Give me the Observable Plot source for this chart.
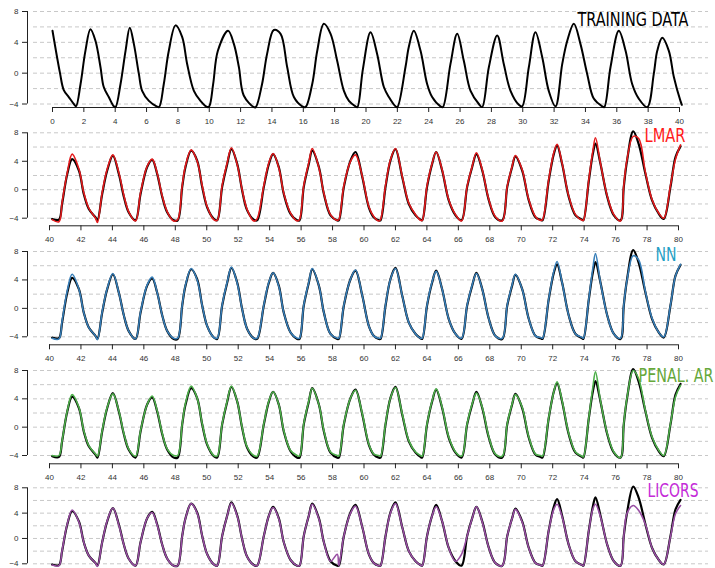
<!DOCTYPE html>
<html><head><meta charset="utf-8">
<script src="https://cdn.jsdelivr.net/npm/d3@7"></script>
<script src="https://cdn.jsdelivr.net/npm/@observablehq/plot@0.6"></script>
<style>
body{margin:0;background:#fff;}
#wrap{position:relative;width:715px;height:568px;overflow:hidden;background:#fff;}
#wrap > div{position:absolute;left:0;width:715px;}
</style></head><body><div id="wrap"></div>
<script>
// ---- training data (x 0..40)
const trainT = [0,0.47,0.72,1.04,1.36,1.5,1.79,2.1,2.42,2.74,3.06,3.27,3.59,3.91,4.02,4.34,4.66,4.93,5.19,5.51,5.72,6.15,6.64,6.8,7.1,7.42,7.85,8.27,8.59,9.02,9.44,9.87,10.0,10.25,10.55,11.2,11.57,11.89,12.2,12.84,12.97,13.37,13.69,14.12,14.55,14.97,15.4,15.93,16.14,16.57,16.89,17.31,17.74,18.16,18.59,18.91,19.33,19.45,19.8,20.29,20.71,21.14,21.46,21.88,22.0,22.52,22.73,23.05,23.48,23.9,24.22,24.75,24.9,25.39,25.82,26.24,26.67,27.2,27.41,27.84,28.37,28.79,29.22,29.75,29.96,30.39,30.81,31.24,31.66,32.09,32.52,32.84,33.26,33.68,34.11,34.53,35.07,35.2,35.6,36.13,36.56,36.98,37.4,37.94,38.36,38.58,38.9,39.32,39.64,40.06,40.15];
const trainY = [5.5,0.1,-2.2,-3.1,-4.0,-4.3,-1.4,2.9,5.7,4.2,0.8,-1.8,-3.1,-4.3,-4.4,-1.4,2.9,5.9,3.8,-0.1,-2.3,-3.6,-4.3,-4.4,-1.4,2.9,6.2,4.7,1.2,-2.3,-3.6,-4.4,-4.3,-1.4,2.9,5.5,3.8,0.8,-2.9,-4.4,-4.4,-1.4,2.5,5.6,5.1,0.8,-3.1,-4.3,-4.4,-1.4,2.9,6.4,5.1,1.6,-2.3,-3.6,-4.3,-4.4,0.5,5.3,2.5,-1.8,-3.1,-4.3,-4.4,0.8,3.4,5.5,2.9,-1.4,-3.1,-4.3,-4.4,1.2,5.1,1.6,-2.3,-4.0,-4.4,0.8,4.9,1.2,-2.3,-4.1,-4.3,0.8,5.3,2.1,-2.3,-4.3,1.2,4.2,6.4,3.8,-0.1,-3.3,-4.3,-4.4,0.8,5.5,2.9,-1.4,-3.3,-4.4,-0.1,2.9,4.6,2.9,-0.5,-3.6,-4.1];

// ---- test period (x 40..80): observed series and four predictions
const testT = [40.17,40.6,40.8,41.13,41.44,41.87,42.18,42.5,42.93,43.05,43.35,43.67,44.03,44.41,44.73,45.04,45.47,45.79,46.21,46.53,46.85,47.17,47.49,47.9,48.15,48.44,48.65,49.01,49.39,49.71,50.03,50.45,50.66,50.98,51.3,51.57,51.94,52.25,52.57,52.99,53.2,53.63,53.95,54.22,54.58,54.9,55.33,55.75,55.9,56.17,56.49,56.71,57.13,57.45,57.87,58.3,58.4,58.72,59.14,59.46,59.89,60.31,60.63,60.94,61.05,61.37,61.68,62.0,62.43,62.85,63.28,63.59,63.7,64.01,64.33,64.59,64.97,65.39,65.82,66.2,66.56,66.88,67.15,67.52,67.94,68.36,68.79,69.11,69.42,69.63,70.06,70.48,70.91,71.22,71.35,71.75,72.07,72.28,72.6,73.02,73.45,73.87,73.95,74.3,74.55,74.72,75.04,75.47,75.89,76.31,76.52,76.73,77.12,77.47,77.9,78.32,78.75,79.06,79.49,79.81,80.13];
const actual = [-4.1,-4.2,-2.0,2.2,4.3,2.7,-0.6,-2.7,-3.9,-4.3,-0.6,2.7,4.8,2.2,-1.0,-3.2,-4.3,-0.6,3.2,4.2,2.2,-1.0,-3.2,-4.3,-4.3,0.4,3.2,5.5,4.1,0.4,-2.5,-4.1,-4.3,0.4,3.6,5.7,3.6,-0.1,-2.9,-4.2,-4.3,0.4,3.6,5.0,3.2,-0.6,-3.4,-4.3,-4.3,0.4,3.6,5.5,3.2,-0.6,-3.6,-4.3,-4.3,0.4,4.1,5.3,1.8,-2.5,-3.9,-4.3,-4.3,0.4,4.1,5.7,1.8,-2.0,-3.6,-4.2,-4.3,0.4,3.6,5.3,2.7,-1.5,-3.6,-4.3,0.4,3.2,5.0,2.7,-1.5,-3.9,-4.3,0.4,3.2,4.7,2.7,-1.5,-3.9,-4.2,-4.3,1.3,5.0,6.2,3.6,-1.0,-3.6,-4.2,-4.3,1.3,5.0,6.5,3.6,-1.0,-3.6,-4.3,0.4,4.1,8.2,6.4,2.2,-1.5,-3.4,-4.1,0.4,4.6,6.1];
const lmar = [-4.2,-4.5,-1.8,2.4,5.0,2.9,-0.4,-2.6,-4.0,-4.6,-0.4,2.9,4.9,2.4,-0.8,-3.1,-4.4,-0.4,3.3,4.3,2.3,-0.9,-3.1,-4.4,-4.2,0.6,3.4,5.6,4.0,0.6,-2.4,-4.2,-4.3,0.6,3.8,5.9,3.5,0.0,-2.8,-4.4,-4.1,0.6,3.8,5.1,3.1,-0.5,-3.3,-4.4,-4.2,0.6,3.8,5.8,3.1,-0.5,-3.5,-4.3,-4.2,0.6,4.0,4.9,1.9,-2.4,-3.8,-4.4,-4.2,0.6,4.2,5.8,1.9,-1.9,-3.5,-4.3,-4.3,0.6,3.7,5.3,2.8,-1.4,-3.5,-4.4,0.5,3.3,5.2,2.8,-1.4,-3.8,-4.4,0.5,3.3,4.8,2.8,-1.4,-3.8,-4.3,-4.2,1.5,5.2,6.4,3.7,-0.9,-3.5,-4.3,-4.3,1.5,5.4,7.3,3.7,-0.9,-3.5,-4.4,0.6,4.3,7.5,7.2,2.4,-1.4,-3.3,-4.0,0.6,4.3,6.3];
const nn = [-4.2,-4.3,-1.8,2.5,4.8,2.7,-0.6,-2.7,-3.9,-4.4,-0.5,2.8,4.9,2.2,-1.0,-3.2,-4.3,-0.5,3.3,4.4,2.2,-1.0,-3.2,-4.2,-4.2,0.5,3.3,5.6,4.0,0.4,-2.5,-4.1,-4.2,0.5,3.7,5.8,3.5,-0.1,-2.9,-4.2,-4.2,0.5,3.7,5.0,3.1,-0.6,-3.4,-4.2,-4.2,0.5,3.7,5.6,3.2,-0.6,-3.6,-4.2,-4.2,0.5,4.1,5.4,1.8,-2.5,-3.9,-4.2,-4.2,0.5,4.1,5.6,1.8,-2.0,-3.6,-4.2,-4.2,0.5,3.7,5.2,2.7,-1.5,-3.6,-4.2,0.5,3.3,4.9,2.7,-1.5,-3.9,-4.2,0.5,3.3,4.8,2.7,-1.5,-3.9,-4.1,-4.2,1.4,5.2,6.6,3.6,-1.0,-3.6,-4.1,-4.2,1.4,5.6,7.7,3.6,-1.0,-3.6,-4.2,0.5,4.0,7.4,6.8,2.3,-1.4,-3.4,-4.0,0.5,4.6,6.2];
const penalAr = [-4.0,-4.0,-1.9,2.3,4.6,2.8,-0.5,-2.6,-3.8,-4.1,-0.5,2.8,4.7,2.3,-0.9,-3.1,-4.1,-0.5,3.2,4.4,2.3,-0.9,-3.1,-4.0,-4.0,0.5,3.4,5.8,4.1,0.5,-2.4,-4.0,-4.1,0.5,3.7,5.8,3.6,0.0,-2.8,-4.0,-4.1,0.5,3.7,5.0,3.2,-0.5,-3.3,-4.0,-4.1,0.5,3.7,5.5,3.2,-0.5,-3.5,-4.0,-4.1,0.5,4.1,5.2,1.9,-2.4,-3.8,-4.0,-4.1,0.5,4.1,5.6,1.9,-1.9,-3.5,-4.0,-4.1,0.5,3.7,5.4,2.8,-1.4,-3.5,-4.1,0.5,3.3,4.8,2.8,-1.4,-3.8,-4.1,0.5,3.3,4.6,2.8,-1.4,-3.8,-4.0,-4.1,1.4,5.0,6.4,3.7,-0.9,-3.5,-4.1,-4.2,1.4,5.6,7.8,3.7,-0.9,-3.5,-4.3,0.5,4.2,8.0,6.8,2.3,-1.4,-3.3,-4.0,0.5,4.3,5.9];
const licors = [-4.2,-4.3,-1.9,2.3,4.5,2.6,-0.6,-2.7,-3.9,-4.4,-0.6,2.8,4.8,2.1,-1.0,-3.2,-4.3,-0.6,3.2,4.1,2.1,-1.0,-3.2,-4.3,-4.3,0.4,3.2,5.5,4.0,0.4,-2.5,-4.1,-4.3,0.4,3.6,5.6,3.5,-0.1,-2.9,-4.2,-4.3,0.4,3.6,4.9,3.1,-0.6,-3.4,-4.3,-4.3,0.4,3.6,5.4,3.1,-0.6,-3.6,-2.5,-4.3,0.4,4.0,5.1,1.8,-2.5,-3.9,-4.3,-4.3,0.4,4.0,5.5,1.8,-2.0,-3.6,-4.2,-4.3,0.4,3.6,5.0,2.7,-1.5,-3.6,-2.5,0.4,3.2,5.0,2.6,-1.5,-3.9,-4.3,0.4,3.2,4.6,2.6,-1.5,-3.9,-4.2,-4.3,1.3,4.6,5.4,3.4,-1.0,-3.6,-4.2,-4.3,1.3,4.6,5.4,3.4,-1.0,-3.6,-4.3,0.4,4.0,5.2,4.4,2.2,-1.5,-3.4,-4.1,0.3,3.9,5.2];

const trainTicks = [0,2,4,6,8,10,12,14,16,18,20,22,24,26,28,30,32,34,36,38,40];
const testTicks = [40,42,44,46,48,50,52,54,56,58,60,62,64,66,68,70,72,74,76,78,80];
const yTicks = [-4,0,4,8];
const gridValues = [-4,-2,0,2,4,6,8];

const trainRows = trainT.map((t, i) => ({t, v: trainY[i]}));
const testRows = testT.map((t, i) => ({t, actual: actual[i], lmar: lmar[i], nn: nn[i], penalAr: penalAr[i], licors: licors[i]}));

const panels = [
  {label: "TRAINING DATA", labelColor: "#000000", lineColor: null, key: null, labelWidth: 111, showX: true,
   top: 0, height: 130, yPx: [103.5, 11], axis: 107, xDom: [0, 40], xPx: [52, 679], ticks: trainTicks, lx: 33.49, ly: 7.01},
  {label: "LMAR", labelColor: "#ff1a1a", lineColor: "#e41a1c", key: "lmar", labelWidth: 41, showX: true,
   top: 120, height: 130, yPx: [97.7, 12.3], axis: 105.3, xDom: [40, 80], xPx: [49, 678], ticks: testTicks, lx: 77.84, ly: 7.58},
  {label: "NN", labelColor: "#1f9fc6", lineColor: "#377eb8", key: "nn", labelWidth: 21, showX: true,
   top: 239, height: 130, yPx: [97.3, 12], axis: 105.3, xDom: [40, 80], xPx: [49, 678], ticks: testTicks, lx: 78.54, ly: 7.53},
  {label: "PENAL. AR", labelColor: "#66a83a", lineColor: "#4daf4a", key: "penalAr", labelWidth: 75, showX: true,
   top: 358, height: 130, yPx: [97, 12], axis: 105.3, xDom: [40, 80], xPx: [49, 678], ticks: testTicks, lx: 77.46, ly: 7.35},
  {label: "LICORS", labelColor: "#c42bd8", lineColor: "#984ea3", key: "licors", labelWidth: 51, showX: false,
   top: 476, height: 92, yPx: [87.3, 11.3], axis: 92, xDom: [40, 80], xPx: [49, 678], ticks: testTicks, lx: 78.03, ly: 7.53}
];

const wrap = document.getElementById("wrap");
const minus = d => (d < 0 ? "\u2212" + Math.abs(d) : String(d));

for (const p of panels) {
  const marks = [
    Plot.ruleY(gridValues, {stroke: "#c8c8c8", strokeWidth: 1, strokeDasharray: "4,3", insetLeft: 6}),
    Plot.ruleX([p.xDom[0]], {y1: -4, y2: 8, stroke: "#222", strokeWidth: 1, dx: 27 - p.xPx[0]}),
    Plot.axisY({ticks: yTicks, tickSize: 5, tickPadding: 4, tickFormat: minus, stroke: "#222", fill: "#333", fontSize: 8, label: null})
  ];
  if (p.showX) {
    marks.push(Plot.ruleY([-4], {x1: p.xDom[0], x2: p.xDom[1], stroke: "#222", strokeWidth: 1, dy: p.axis - p.yPx[0]}));
    marks.push(Plot.axisX({ticks: p.ticks, tickSize: 5, tickPadding: 6, tickFormat: d => String(d), stroke: "#222", fill: "#333", fontSize: 8, label: null}));
  }
  if (p.key === null) {
    marks.push(Plot.line(trainRows, {x: "t", y: "v", stroke: "#000", strokeWidth: 2, curve: "catmull-rom"}));
  } else {
    marks.push(Plot.line(testRows, {x: "t", y: "actual", stroke: "#000", strokeWidth: 2.2, curve: "catmull-rom"}));
    marks.push(Plot.line(testRows, {x: "t", y: p.key, stroke: p.lineColor, strokeWidth: 1.6, curve: "catmull-rom"}));
  }
  marks.push(Plot.text([p.label], {x: p.lx, y: p.ly, text: d => d, textAnchor: "start", fill: p.labelColor,
    fontSize: 20, fontFamily: "'DejaVu Sans Condensed', 'DejaVu Sans', sans-serif"}));

  const chart = Plot.plot({
    width: 715,
    height: p.height,
    marginLeft: 27,
    marginRight: 7,
    marginTop: 0,
    marginBottom: p.height - p.axis,
    x: {domain: p.xDom, range: p.xPx, label: null, axis: p.showX ? undefined : null},
    y: {domain: [-4, 8], range: p.yPx, label: null},
    style: {fontFamily: "'Liberation Sans', Arial, sans-serif", fontSize: "8px", color: "#333", background: "transparent", overflow: "visible"},
    marks
  });
  // fit the panel title to the width it has in the reference
  for (const t of chart.querySelectorAll("text")) {
    if (t.textContent === p.label) {
      t.setAttribute("textLength", p.labelWidth);
      t.setAttribute("lengthAdjust", "spacingAndGlyphs");
    }
  }
  const holder = document.createElement("div");
  holder.style.top = p.top + "px";
  holder.appendChild(chart);
  wrap.appendChild(holder);
}
</script>
</body></html>
